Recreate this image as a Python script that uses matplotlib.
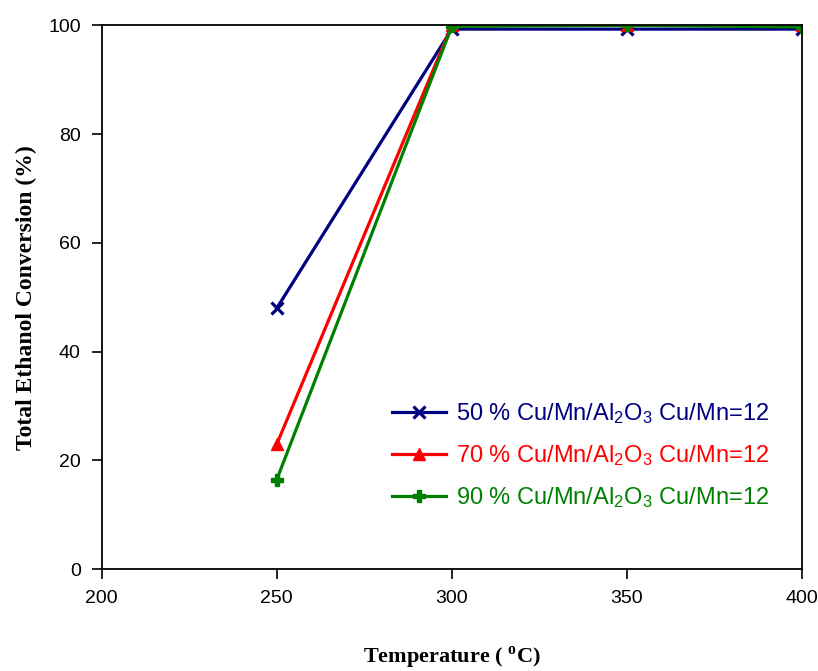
import matplotlib
matplotlib.use("Agg")
import matplotlib.pyplot as plt

temperature = [250, 300, 350, 400]
conv_50 = [48.0, 99.3, 99.3, 99.3]
conv_70 = [23.0, 100.0, 100.0, 100.0]
conv_90 = [16.5, 99.8, 100.0, 99.7]
labels = ["50 % Cu/Mn/Al$_2$O$_3$ Cu/Mn=12",
          "70 % Cu/Mn/Al$_2$O$_3$ Cu/Mn=12",
          "90 % Cu/Mn/Al$_2$O$_3$ Cu/Mn=12"]
x_ticks = [200, 250, 300, 350, 400]
y_ticks = [0, 20, 40, 60, 80, 100]

plt.rcParams['font.family'] = ['Liberation Sans', 'DejaVu Sans']
plt.rcParams['mathtext.fontset'] = 'custom'
plt.rcParams['mathtext.rm'] = 'Liberation Sans'
plt.rcParams['mathtext.it'] = 'Liberation Sans'
plt.rcParams['mathtext.bf'] = 'Liberation Serif:bold'

fig = plt.figure(figsize=(8.18, 6.71), dpi=100)
ax = fig.add_axes([101.7/818, 1-569.3/671, (802-101.7)/818, (569.3-25.3)/671])

ax.plot(temperature, conv_50, color='#000080', lw=2.3, marker='x', ms=9, mew=2.3, label=labels[0])
ax.plot(temperature, conv_70, color='#FF0000', lw=2.3, marker='^', ms=9, label=labels[1])
ax.plot(temperature, conv_90, color='#008000', lw=2.3, marker='P', ms=9, label=labels[2])

ax.set_xlim(200, 400)
ax.set_ylim(0, 100)
ax.set_xticks(x_ticks)
ax.set_yticks(y_ticks)
ax.tick_params(direction='out', length=7, width=1.2, labelsize=14, pad=8)
for s in ax.spines.values():
    s.set_linewidth(1.3)

ax.set_xlabel("Temperature ( $^{\\mathbf{o}}$C)", family='Liberation Serif', weight='bold', fontsize=16)
ax.set_ylabel("Total Ethanol Conversion (%)", family='Liberation Serif', weight='bold', fontsize=17)
ax.xaxis.set_label_coords(0.5, -0.138)
ax.yaxis.set_label_coords(-0.093, 0.5)

leg = ax.legend(loc='upper left', bbox_to_anchor=(392/818, 1-401/671), bbox_transform=fig.transFigure,
                frameon=False, fontsize=17, labelcolor='linecolor', handlelength=2.3,
                handletextpad=0.4, labelspacing=0.72, borderpad=0, borderaxespad=0)

fig.savefig('out.png', dpi=100)
